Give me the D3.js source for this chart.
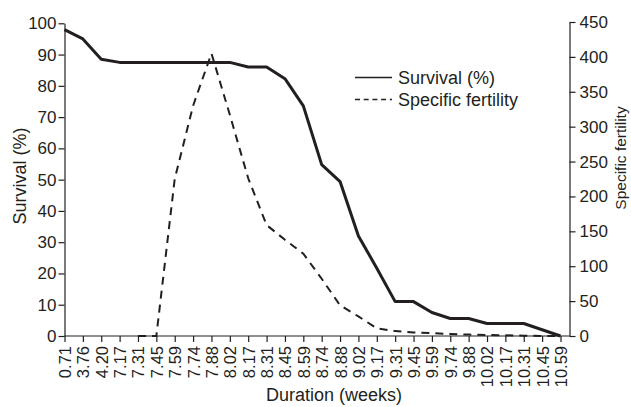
<!DOCTYPE html>
<html>
<head>
<meta charset="utf-8">
<script src="https://cdn.jsdelivr.net/npm/d3@7"></script>
<style>
  html, body { margin: 0; padding: 0; background: #fff; }
  svg { display: block; }
  text { font-family: "Liberation Sans", Arial, Helvetica, sans-serif; fill: #231f20; }
</style>
</head>
<body>
<svg id="chart" width="631" height="407"></svg>
<script>
const categories = ["0.71","3.76","4.20","7.17","7.31","7.45","7.59","7.74","7.88","8.02","8.17","8.31","8.45","8.59","8.74","8.88","9.02","9.17","9.31","9.45","9.59","9.74","9.88","10.02","10.17","10.31","10.45","10.59"];
const survival = [98,95,88.5,87.5,87.5,87.5,87.5,87.5,87.5,87.5,86,86,82.3,73.6,54.8,49.4,32,21.7,11,11,7.5,5.6,5.6,4,4,4,2,0];
const fertility = [null,null,null,null,0,0,225,330,405,317,226,159,138,118,82,44,28,11,7,5,4,3,2,1.5,1,0.5,0,0];
const leftTicks = [0,10,20,30,40,50,60,70,80,90,100];
const rightTicks = [0,50,100,150,200,250,300,350,400,450];
const seriesNames = ["Survival (%)", "Specific fertility"];

const ink = "#231f20";
const svg = d3.select("#chart");

const x = d3.scalePoint().domain(categories).range([64.5, 560.5]);
const yL = d3.scaleLinear().domain([0, 100]).range([336, 23.3]);
const yR = d3.scaleLinear().domain([0, 450]).range([336, 22]);

// x axis
const xAxis = svg.append("g").attr("transform", "translate(0,336)")
  .call(d3.axisBottom(x).tickSize(6).tickPadding(4).tickSizeOuter(0));
xAxis.select(".domain").remove();
xAxis.append("line").attr("x1", 64.5).attr("x2", 569.5).attr("y1", 0).attr("y2", 0)
  .attr("stroke", ink).attr("stroke-width", 1.2);
xAxis.selectAll(".tick line").attr("stroke", ink).attr("stroke-width", 1.2);
xAxis.selectAll(".tick text")
  .attr("transform", "rotate(-90)")
  .attr("text-anchor", "end")
  .attr("x", -10).attr("y", 0).attr("dy", "0.36em")
  .style("font-size", "16.5px").style("font-family", '"Liberation Sans", Arial, sans-serif')
  .attr("fill", ink);

// left axis
const lAxis = svg.append("g").attr("transform", "translate(64.5,0)")
  .call(d3.axisLeft(yL).tickValues(leftTicks).tickSize(6).tickPadding(2).tickSizeOuter(0));
lAxis.select(".domain").attr("stroke", ink).attr("stroke-width", 1.2);
lAxis.selectAll(".tick line").attr("stroke", ink).attr("stroke-width", 1.2);
lAxis.selectAll(".tick text")
  .style("font-size", "17px").style("font-family", '"Liberation Sans", Arial, sans-serif')
  .attr("fill", ink);

// right axis
const rAxis = svg.append("g").attr("transform", "translate(569.5,0)")
  .call(d3.axisRight(yR).tickValues(rightTicks).tickSize(6).tickPadding(4).tickSizeOuter(0));
rAxis.select(".domain").attr("stroke", ink).attr("stroke-width", 1.2);
rAxis.selectAll(".tick line").attr("stroke", ink).attr("stroke-width", 1.2);
rAxis.selectAll(".tick text")
  .style("font-size", "17px").style("font-family", '"Liberation Sans", Arial, sans-serif')
  .attr("fill", ink);

// lines
const lineS = d3.line().x((d, i) => x(categories[i])).y(d => yL(d));
const lineF = d3.line().defined(d => d !== null).x((d, i) => x(categories[i])).y(d => yR(d));

svg.append("path").datum(fertility).attr("d", lineF)
  .attr("fill", "none").attr("stroke", ink).attr("stroke-width", 2)
  .attr("stroke-dasharray", "8,6");

svg.append("path").datum(survival).attr("d", lineS)
  .attr("fill", "none").attr("stroke", ink).attr("stroke-width", 3)
  .attr("stroke-linejoin", "round");

// legend
const leg = svg.append("g");
leg.append("line").attr("x1", 355).attr("x2", 392).attr("y1", 77.5).attr("y2", 77.5)
  .attr("stroke", ink).attr("stroke-width", 1.5);
leg.append("line").attr("x1", 355).attr("x2", 392).attr("y1", 99.5).attr("y2", 99.5)
  .attr("stroke", ink).attr("stroke-width", 1.5).attr("stroke-dasharray", "5,3.7");
leg.append("text").attr("x", 398).attr("y", 77.5).attr("dy", "0.35em")
  .style("font-size", "18px").text(seriesNames[0]);
leg.append("text").attr("x", 398).attr("y", 99.5).attr("dy", "0.35em")
  .style("font-size", "18px").text(seriesNames[1]);

// axis titles
svg.append("text").attr("x", 334).attr("y", 401).attr("text-anchor", "middle")
  .style("font-size", "18px").text("Duration (weeks)");
svg.append("text").attr("transform", "translate(26,176) rotate(-90)").attr("text-anchor", "middle")
  .style("font-size", "18px").text("Survival (%)");
svg.append("text").attr("transform", "translate(626,158) rotate(-90)").attr("text-anchor", "middle")
  .style("font-size", "15.5px").text("Specific fertility");
</script>
</body>
</html>
